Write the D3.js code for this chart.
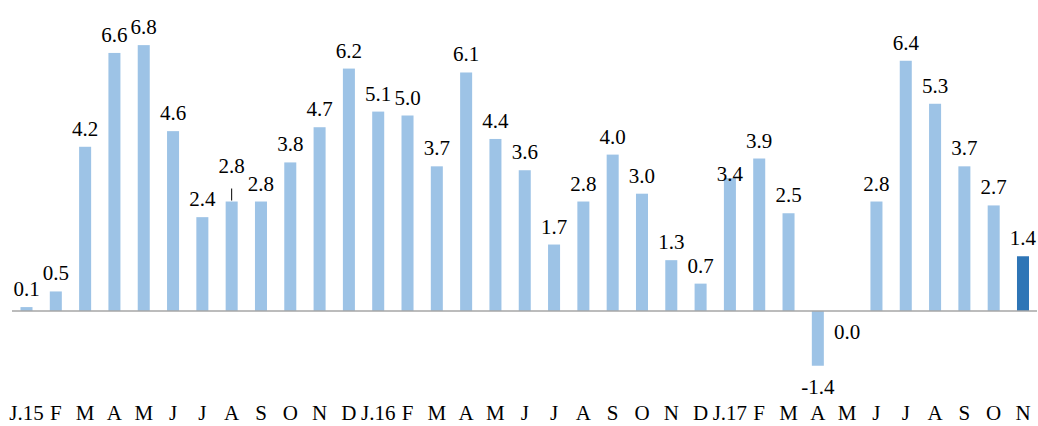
<!DOCTYPE html>
<html>
<head>
<meta charset="utf-8">
<script src="https://cdn.jsdelivr.net/npm/d3@7"></script>
<style>
  html, body { margin: 0; padding: 0; background: #fff; }
  svg { display: block; }
  text { font-family: "Liberation Serif", "Times New Roman", serif; fill: #000; }
</style>
</head>
<body>
<svg id="chart" width="1038" height="426"></svg>
<script>
// ---- data ----
const categories = ["J.15","F","M","A","M","J","J","A","S","O","N","D",
                    "J.16","F","M","A","M","J","J","A","S","O","N","D",
                    "J.17","F","M","A","M","J","J","A","S","O","N"];
const values = [0.1, 0.5, 4.2, 6.6, 6.8, 4.6, 2.4, 2.8, 2.8, 3.8, 4.7, 6.2,
                5.1, 5.0, 3.7, 6.1, 4.4, 3.6, 1.7, 2.8, 4.0, 3.0, 1.3, 0.7,
                3.4, 3.9, 2.5, -1.4, 0.0, 2.8, 6.4, 5.3, 3.7, 2.7, 1.4];
const yDomain = [-2, 8];

// ---- layout ----
const zeroY = 311, unit = 39.1;
const svg = d3.select("#chart");

const idx = categories.map((_, i) => i);
const x = d3.scaleBand().domain(idx).range([11.85, 1037.65]).paddingInner(0.59).paddingOuter(0.295);
const y = d3.scaleLinear().domain(yDomain).range([zeroY - yDomain[0] * unit, zeroY - yDomain[1] * unit]);

const lastIdx = values.length - 1;
const leaderIdx = 7, leaderLift = 18;
const lowLabelIdx = 24;

// bars
svg.append("g").selectAll("rect").data(values).join("rect")
  .attr("x", (d, i) => x(i))
  .attr("width", x.bandwidth())
  .attr("y", d => y(Math.max(0, d)))
  .attr("height", d => Math.abs(y(d) - y(0)))
  .attr("fill", (d, i) => i === lastIdx ? "#2E75B6" : "#9DC3E6");

// axis line
svg.append("line")
  .attr("x1", 12).attr("x2", 1037)
  .attr("y1", y(0)).attr("y2", y(0))
  .attr("stroke", "#A6A6A6").attr("stroke-width", 1.3);

// value labels
const labelY = (d, i) => {
  if (d > 0) {
    let base = y(d) - 11;
    if (i === leaderIdx) base -= leaderLift;
    if (i === lowLabelIdx) base += 14;
    return base;
  }
  return y(d) + 28;
};
svg.append("g").selectAll("text").data(values).join("text")
  .attr("x", (d, i) => x(i) + x.bandwidth() / 2)
  .attr("y", labelY)
  .attr("text-anchor", "middle")
  .attr("font-size", 21)
  .text(d => d.toFixed(1));

// leader line
svg.append("line")
  .attr("x1", x(leaderIdx) + x.bandwidth() / 2)
  .attr("x2", x(leaderIdx) + x.bandwidth() / 2)
  .attr("y1", y(values[leaderIdx]) - 13)
  .attr("y2", y(values[leaderIdx]) - 1)
  .attr("stroke", "#000").attr("stroke-width", 1);

// category axis labels
const xAxis = d3.axisBottom(x).tickSize(0).tickFormat(i => categories[i]);
const gx = svg.append("g").attr("transform", "translate(0,420)").call(xAxis);
gx.select(".domain").remove();
gx.selectAll("text")
  .attr("font-size", 21)
  .attr("font-family", "Liberation Serif, serif")
  .attr("fill", "#000")
  .attr("dy", "0")
  .attr("y", 0);
</script>
</body>
</html>
